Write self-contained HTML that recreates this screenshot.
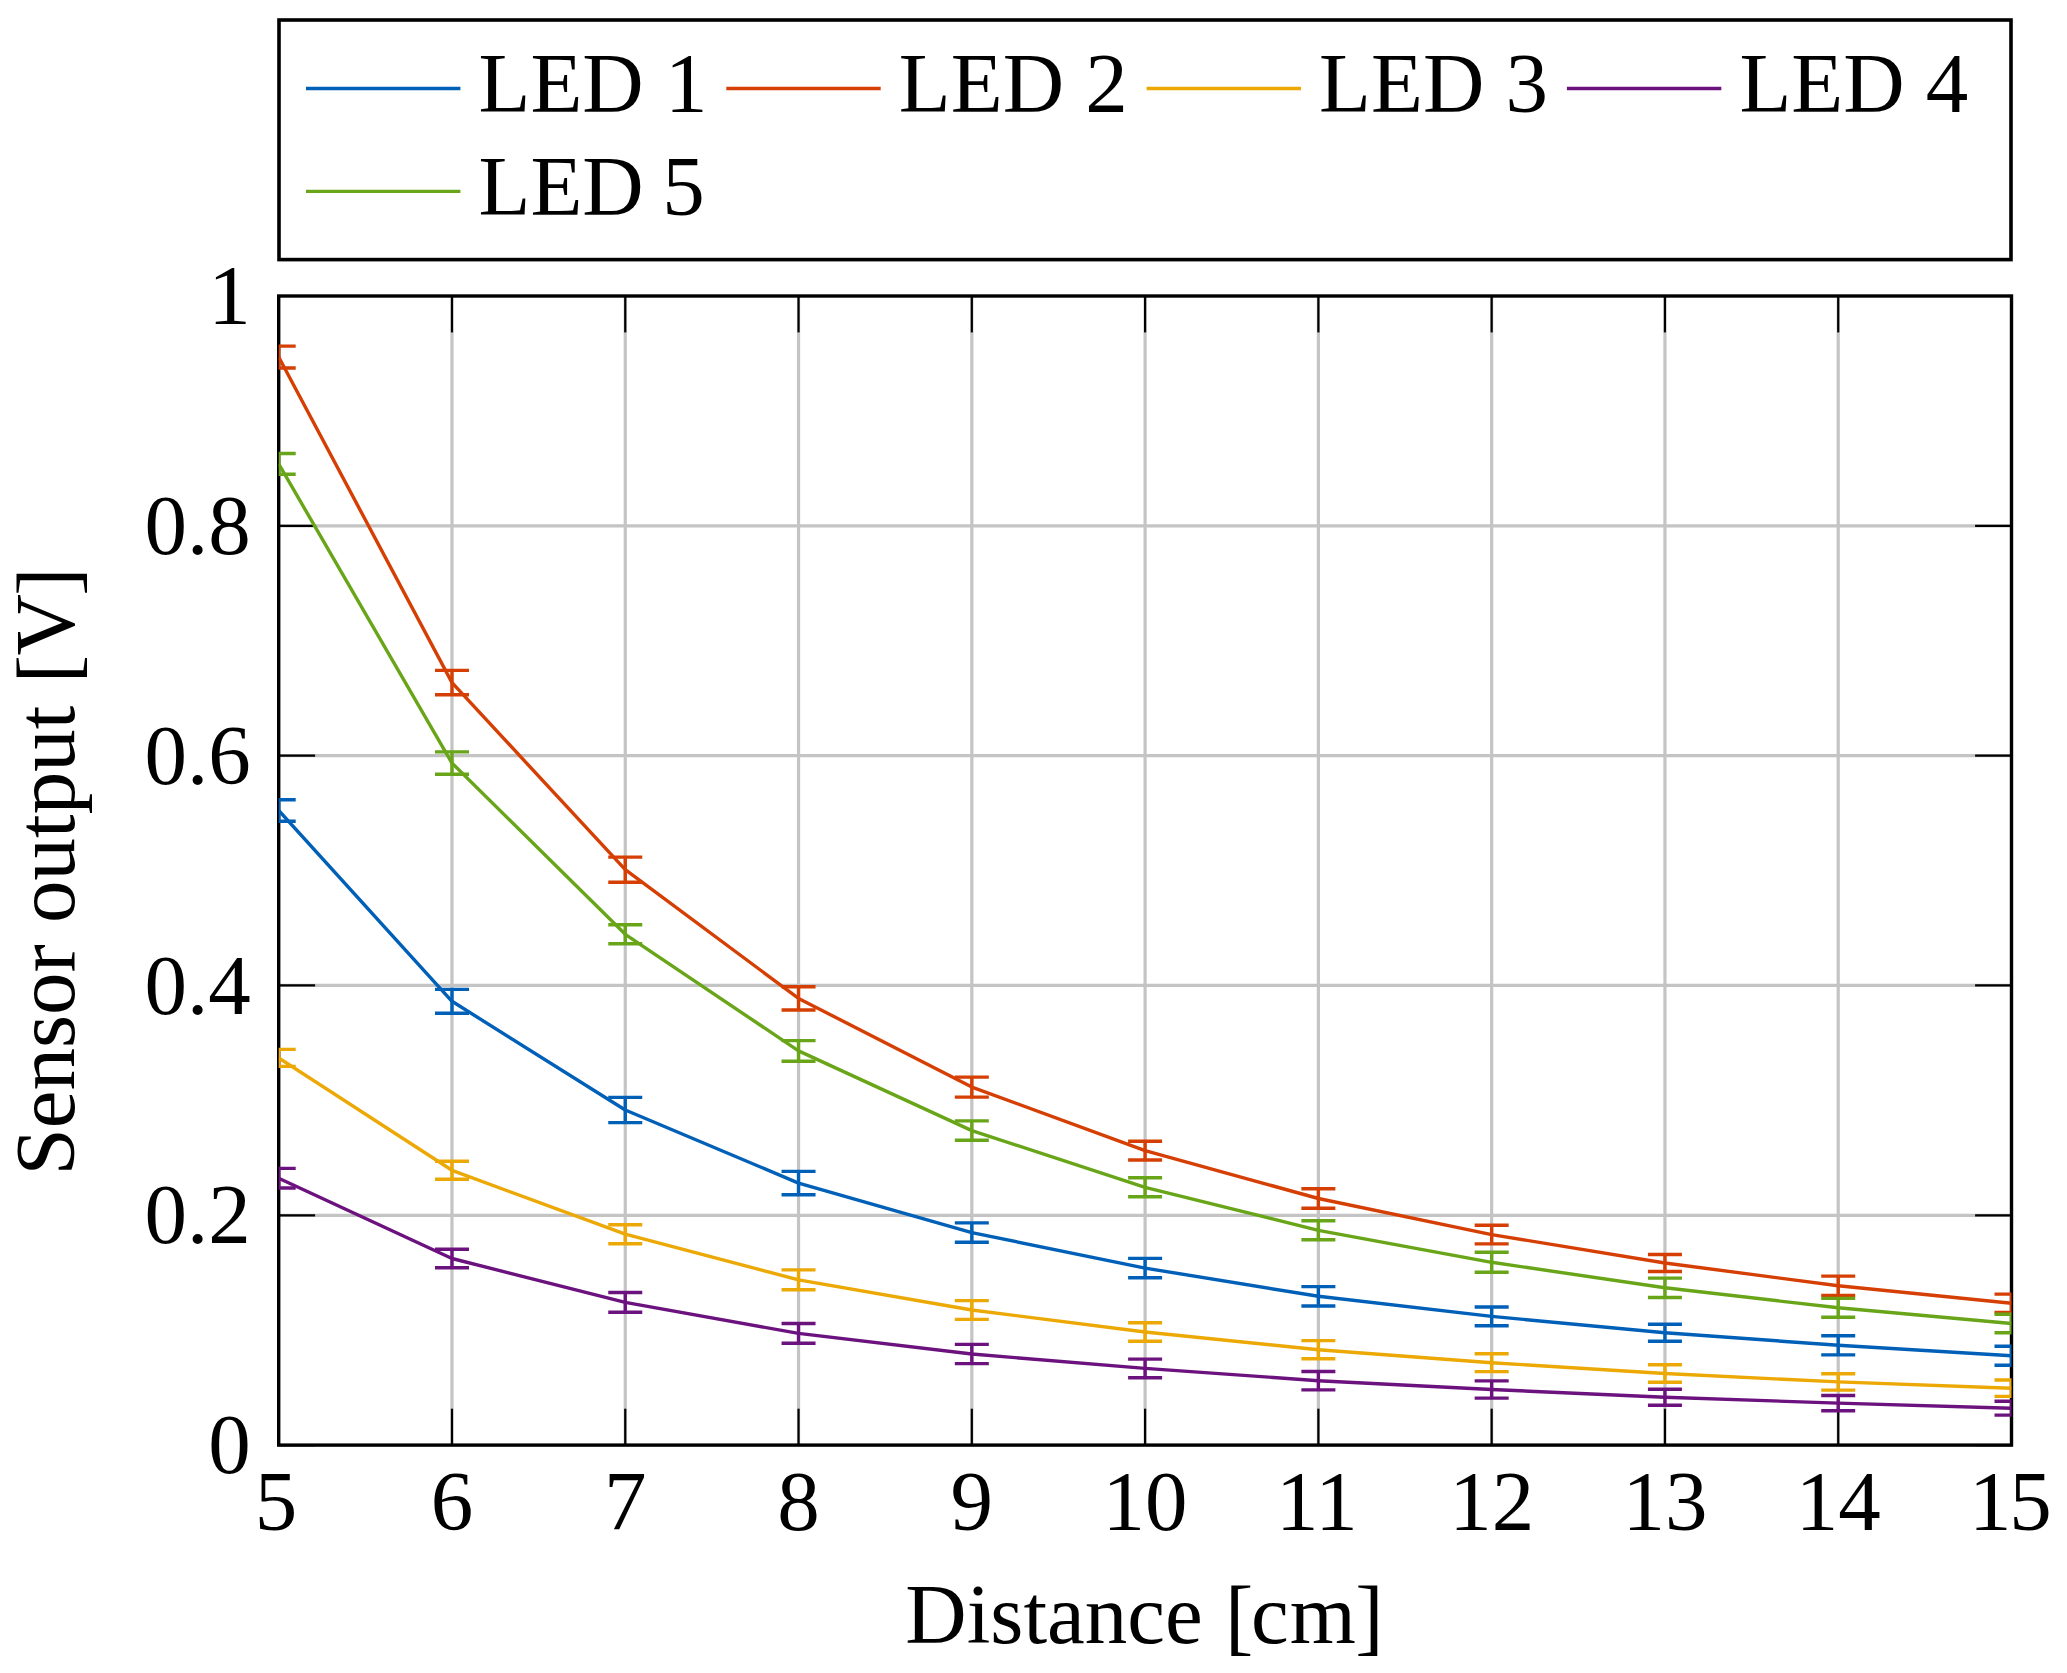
<!DOCTYPE html>
<html lang="en">
<head>
<meta charset="utf-8">
<title>Sensor output vs distance</title>
<style>
html,body{margin:0;padding:0;background:#fff;}
body{width:2067px;height:1673px;overflow:hidden;font-family:"Liberation Serif",serif;}
svg{display:block;}
text{font-family:"Liberation Serif",serif;font-size:85px;fill:#000;}
</style>
</head>
<body>
<svg width="2067" height="1673" viewBox="0 0 2067 1673">
<rect x="0" y="0" width="2067" height="1673" fill="#ffffff"/>
<defs><clipPath id="plotclip"><rect x="278.70" y="296.00" width="1732.80" height="1149.10"/></clipPath></defs>
<g stroke="#c4c4c4" stroke-width="3.20" fill="none">
<line x1="451.98" y1="296.00" x2="451.98" y2="1445.10"/>
<line x1="625.26" y1="296.00" x2="625.26" y2="1445.10"/>
<line x1="798.54" y1="296.00" x2="798.54" y2="1445.10"/>
<line x1="971.82" y1="296.00" x2="971.82" y2="1445.10"/>
<line x1="1145.10" y1="296.00" x2="1145.10" y2="1445.10"/>
<line x1="1318.38" y1="296.00" x2="1318.38" y2="1445.10"/>
<line x1="1491.66" y1="296.00" x2="1491.66" y2="1445.10"/>
<line x1="1664.94" y1="296.00" x2="1664.94" y2="1445.10"/>
<line x1="1838.22" y1="296.00" x2="1838.22" y2="1445.10"/>
<line x1="278.70" y1="1215.28" x2="2011.50" y2="1215.28"/>
<line x1="278.70" y1="985.46" x2="2011.50" y2="985.46"/>
<line x1="278.70" y1="755.64" x2="2011.50" y2="755.64"/>
<line x1="278.70" y1="525.82" x2="2011.50" y2="525.82"/>
</g>
<g stroke="#000" stroke-width="2.20" fill="none">
<line x1="278.70" y1="1445.10" x2="278.70" y2="1408.70"/>
<line x1="278.70" y1="296.00" x2="278.70" y2="332.40"/>
<line x1="451.98" y1="1445.10" x2="451.98" y2="1408.70"/>
<line x1="451.98" y1="296.00" x2="451.98" y2="332.40"/>
<line x1="625.26" y1="1445.10" x2="625.26" y2="1408.70"/>
<line x1="625.26" y1="296.00" x2="625.26" y2="332.40"/>
<line x1="798.54" y1="1445.10" x2="798.54" y2="1408.70"/>
<line x1="798.54" y1="296.00" x2="798.54" y2="332.40"/>
<line x1="971.82" y1="1445.10" x2="971.82" y2="1408.70"/>
<line x1="971.82" y1="296.00" x2="971.82" y2="332.40"/>
<line x1="1145.10" y1="1445.10" x2="1145.10" y2="1408.70"/>
<line x1="1145.10" y1="296.00" x2="1145.10" y2="332.40"/>
<line x1="1318.38" y1="1445.10" x2="1318.38" y2="1408.70"/>
<line x1="1318.38" y1="296.00" x2="1318.38" y2="332.40"/>
<line x1="1491.66" y1="1445.10" x2="1491.66" y2="1408.70"/>
<line x1="1491.66" y1="296.00" x2="1491.66" y2="332.40"/>
<line x1="1664.94" y1="1445.10" x2="1664.94" y2="1408.70"/>
<line x1="1664.94" y1="296.00" x2="1664.94" y2="332.40"/>
<line x1="1838.22" y1="1445.10" x2="1838.22" y2="1408.70"/>
<line x1="1838.22" y1="296.00" x2="1838.22" y2="332.40"/>
<line x1="2011.50" y1="1445.10" x2="2011.50" y2="1408.70"/>
<line x1="2011.50" y1="296.00" x2="2011.50" y2="332.40"/>
<line x1="278.70" y1="1445.10" x2="315.10" y2="1445.10"/>
<line x1="2011.50" y1="1445.10" x2="1975.10" y2="1445.10"/>
<line x1="278.70" y1="1215.28" x2="315.10" y2="1215.28"/>
<line x1="2011.50" y1="1215.28" x2="1975.10" y2="1215.28"/>
<line x1="278.70" y1="985.46" x2="315.10" y2="985.46"/>
<line x1="2011.50" y1="985.46" x2="1975.10" y2="985.46"/>
<line x1="278.70" y1="755.64" x2="315.10" y2="755.64"/>
<line x1="2011.50" y1="755.64" x2="1975.10" y2="755.64"/>
<line x1="278.70" y1="525.82" x2="315.10" y2="525.82"/>
<line x1="2011.50" y1="525.82" x2="1975.10" y2="525.82"/>
<line x1="278.70" y1="296.00" x2="315.10" y2="296.00"/>
<line x1="2011.50" y1="296.00" x2="1975.10" y2="296.00"/>
</g>
<rect x="278.70" y="296.00" width="1732.80" height="1149.10" fill="none" stroke="#000" stroke-width="3.40"/>
<g clip-path="url(#plotclip)" fill="none" stroke-width="3.40" stroke-linejoin="round">
<g stroke="#0060B8">
<polyline points="278.70,810.50 451.98,1001.30 625.26,1110.00 798.54,1183.10 971.82,1232.60 1145.10,1268.10 1318.38,1296.30 1491.66,1316.40 1664.94,1332.70 1838.22,1345.30 2011.50,1355.70"/>
<path d="M278.70 799.70V821.30M261.70 799.70H295.70M261.70 821.30H295.70M451.98 989.40V1013.20M434.98 989.40H468.98M434.98 1013.20H468.98M625.26 1097.40V1122.60M608.26 1097.40H642.26M608.26 1122.60H642.26M798.54 1171.40V1194.80M781.54 1171.40H815.54M781.54 1194.80H815.54M971.82 1222.90V1242.30M954.82 1222.90H988.82M954.82 1242.30H988.82M1145.10 1258.40V1277.80M1128.10 1258.40H1162.10M1128.10 1277.80H1162.10M1318.38 1286.60V1306.00M1301.38 1286.60H1335.38M1301.38 1306.00H1335.38M1491.66 1307.00V1325.80M1474.66 1307.00H1508.66M1474.66 1325.80H1508.66M1664.94 1324.20V1341.20M1647.94 1324.20H1681.94M1647.94 1341.20H1681.94M1838.22 1335.70V1354.90M1821.22 1335.70H1855.22M1821.22 1354.90H1855.22M2011.50 1346.20V1365.20M1994.50 1346.20H2028.50M1994.50 1365.20H2028.50"/>
</g>
<g stroke="#D63F03">
<polyline points="278.70,357.05 451.98,682.60 625.26,869.70 798.54,998.40 971.82,1087.10 1145.10,1150.60 1318.38,1198.50 1491.66,1234.60 1664.94,1263.00 1838.22,1285.80 2011.50,1303.30"/>
<path d="M278.70 346.10V368.00M261.70 346.10H295.70M261.70 368.00H295.70M451.98 670.40V694.80M434.98 670.40H468.98M434.98 694.80H468.98M625.26 857.10V882.30M608.26 857.10H642.26M608.26 882.30H642.26M798.54 986.80V1010.00M781.54 986.80H815.54M781.54 1010.00H815.54M971.82 1077.10V1097.10M954.82 1077.10H988.82M954.82 1097.10H988.82M1145.10 1141.20V1160.00M1128.10 1141.20H1162.10M1128.10 1160.00H1162.10M1318.38 1188.80V1208.20M1301.38 1188.80H1335.38M1301.38 1208.20H1335.38M1491.66 1225.30V1243.90M1474.66 1225.30H1508.66M1474.66 1243.90H1508.66M1664.94 1254.50V1271.50M1647.94 1254.50H1681.94M1647.94 1271.50H1681.94M1838.22 1276.10V1295.50M1821.22 1276.10H1855.22M1821.22 1295.50H1855.22M2011.50 1294.10V1312.50M1994.50 1294.10H2028.50M1994.50 1312.50H2028.50"/>
</g>
<g stroke="#ECA804">
<polyline points="278.70,1057.90 451.98,1170.30 625.26,1234.20 798.54,1279.80 971.82,1310.00 1145.10,1332.00 1318.38,1349.70 1491.66,1362.70 1664.94,1373.50 1838.22,1381.90 2011.50,1388.20"/>
<path d="M278.70 1049.40V1066.40M261.70 1049.40H295.70M261.70 1066.40H295.70M451.98 1161.30V1179.30M434.98 1161.30H468.98M434.98 1179.30H468.98M625.26 1224.70V1243.70M608.26 1224.70H642.26M608.26 1243.70H642.26M798.54 1269.90V1289.70M781.54 1269.90H815.54M781.54 1289.70H815.54M971.82 1300.60V1319.40M954.82 1300.60H988.82M954.82 1319.40H988.82M1145.10 1322.70V1341.30M1128.10 1322.70H1162.10M1128.10 1341.30H1162.10M1318.38 1340.60V1358.80M1301.38 1340.60H1335.38M1301.38 1358.80H1335.38M1491.66 1353.80V1371.60M1474.66 1353.80H1508.66M1474.66 1371.60H1508.66M1664.94 1364.70V1382.30M1647.94 1364.70H1681.94M1647.94 1382.30H1681.94M1838.22 1373.70V1390.10M1821.22 1373.70H1855.22M1821.22 1390.10H1855.22M2011.50 1380.00V1396.40M1994.50 1380.00H2028.50M1994.50 1396.40H2028.50"/>
</g>
<g stroke="#6C127E">
<polyline points="278.70,1178.20 451.98,1258.50 625.26,1302.40 798.54,1333.40 971.82,1354.00 1145.10,1368.40 1318.38,1380.70 1491.66,1389.50 1664.94,1397.30 1838.22,1403.10 2011.50,1408.20"/>
<path d="M278.70 1168.40V1188.00M261.70 1168.40H295.70M261.70 1188.00H295.70M451.98 1249.30V1267.70M434.98 1249.30H468.98M434.98 1267.70H468.98M625.26 1292.50V1312.30M608.26 1292.50H642.26M608.26 1312.30H642.26M798.54 1323.50V1343.30M781.54 1323.50H815.54M781.54 1343.30H815.54M971.82 1344.40V1363.60M954.82 1344.40H988.82M954.82 1363.60H988.82M1145.10 1359.10V1377.70M1128.10 1359.10H1162.10M1128.10 1377.70H1162.10M1318.38 1371.50V1389.90M1301.38 1371.50H1335.38M1301.38 1389.90H1335.38M1491.66 1380.90V1398.10M1474.66 1380.90H1508.66M1474.66 1398.10H1508.66M1664.94 1389.30V1405.30M1647.94 1389.30H1681.94M1647.94 1405.30H1681.94M1838.22 1395.50V1410.70M1821.22 1395.50H1855.22M1821.22 1410.70H1855.22M2011.50 1401.30V1415.10M1994.50 1401.30H2028.50M1994.50 1415.10H2028.50"/>
</g>
<g stroke="#69A519">
<polyline points="278.70,463.90 451.98,763.10 625.26,934.30 798.54,1050.90 971.82,1130.60 1145.10,1187.30 1318.38,1230.30 1491.66,1262.30 1664.94,1287.80 1838.22,1307.80 2011.50,1323.50"/>
<path d="M278.70 453.55V474.25M261.70 453.55H295.70M261.70 474.25H295.70M451.98 751.90V774.30M434.98 751.90H468.98M434.98 774.30H468.98M625.26 924.80V943.80M608.26 924.80H642.26M608.26 943.80H642.26M798.54 1040.60V1061.20M781.54 1040.60H815.54M781.54 1061.20H815.54M971.82 1120.90V1140.30M954.82 1120.90H988.82M954.82 1140.30H988.82M1145.10 1177.80V1196.80M1128.10 1177.80H1162.10M1128.10 1196.80H1162.10M1318.38 1220.80V1239.80M1301.38 1220.80H1335.38M1301.38 1239.80H1335.38M1491.66 1252.30V1272.30M1474.66 1252.30H1508.66M1474.66 1272.30H1508.66M1664.94 1278.10V1297.50M1647.94 1278.10H1681.94M1647.94 1297.50H1681.94M1838.22 1298.40V1317.20M1821.22 1298.40H1855.22M1821.22 1317.20H1855.22M2011.50 1314.20V1332.80M1994.50 1314.20H2028.50M1994.50 1332.80H2028.50"/>
</g>
</g>
<text x="254.75" y="1530">5</text>
<text x="430.73" y="1530">6</text>
<text x="604.01" y="1530">7</text>
<text x="777.29" y="1530">8</text>
<text x="950.57" y="1530">9</text>
<text x="1102.60" y="1530">10</text>
<text x="1275.88" y="1530">11</text>
<text x="1449.16" y="1530">12</text>
<text x="1622.44" y="1530">13</text>
<text x="1795.72" y="1530">14</text>
<text x="1969.00" y="1530">1<tspan dx="-2.2">5</tspan></text>
<text x="250.8" y="1473.30" text-anchor="end">0</text>
<text x="250.8" y="1243.48" text-anchor="end">0.2</text>
<text x="250.8" y="1013.66" text-anchor="end">0.4</text>
<text x="250.8" y="783.84" text-anchor="end">0.6</text>
<text x="250.8" y="554.02" text-anchor="end">0.8</text>
<text x="250.8" y="324.20" text-anchor="end">1</text>
<text x="1144.50" y="1642.9" text-anchor="middle">Distance <tspan dx="1.1" dy="2.1">[</tspan><tspan dx="-2.4" dy="-2.1">c</tspan><tspan dx="1.1">m</tspan><tspan dx="-0.6" dy="2.1">]</tspan></text>
<text transform="translate(73.5 871.55) rotate(-90)" text-anchor="middle">Sensor output <tspan dx="1.3" dy="2.2">[</tspan><tspan dx="-0.6" dy="-2.2">V</tspan><tspan dx="-1.7" dy="2.2">]</tspan></text>
<rect x="279.00" y="20.00" width="1732.00" height="239.60" fill="#fff" stroke="#000" stroke-width="3.6"/>
<line x1="306.00" y1="88.55" x2="460.40" y2="88.55" stroke="#0060B8" stroke-width="3.40"/>
<text x="478.50" y="111.60">LED 1</text>
<line x1="726.30" y1="88.55" x2="880.70" y2="88.55" stroke="#D63F03" stroke-width="3.40"/>
<text x="898.80" y="111.60">LED 2</text>
<line x1="1146.60" y1="88.55" x2="1301.00" y2="88.55" stroke="#ECA804" stroke-width="3.40"/>
<text x="1319.10" y="111.60">LED 3</text>
<line x1="1566.90" y1="88.55" x2="1721.30" y2="88.55" stroke="#6C127E" stroke-width="3.40"/>
<text x="1739.40" y="111.60">LED 4</text>
<line x1="306.00" y1="191.40" x2="460.40" y2="191.40" stroke="#69A519" stroke-width="3.40"/>
<text x="478.50" y="214.60">LED <tspan dx="-2.7">5</tspan></text>
</svg>
</body>
</html>
